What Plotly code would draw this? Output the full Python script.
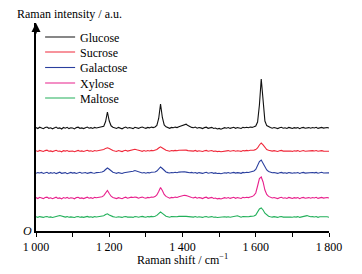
import plotly.graph_objects as go

shift = list(range(1000, 1805, 5))

glucose = [0.5, -0.5, 0.8, 0.0, -0.7, 0.4, 1.0, -0.3, 0.2, -0.8,
           0.3, 0.9, -0.4, 0.1, -1.0, 0.5, -0.2, 0.7, -0.6, 0.2,
           0.0, -0.9, 0.4, 0.8, -0.3, 0.1, -0.6, 0.5, 0.9, -0.2,
           0.3, -0.5, 0.6, 0.0, 0.4, 0.8, 1.0, 1.8, 6.5, 16.0,
           7.0, 2.2, 0.8, 0.1, -0.5, 0.6, 0.2, -0.8, 0.3, 0.9,
           -0.2, 0.4, 0.0, -0.6, 0.7, 0.3, -0.4, 0.5, 1.0, 0.2,
           -0.3, 0.6, 0.1, 0.9, 0.4, 1.0, 2.5, 9.5, 24.0, 10.5,
           3.0, 1.2, 0.5, -0.3, 0.6, 0.2, 0.9, 0.4, 1.2, 1.8,
           2.6, 3.5, 3.8, 2.4, 1.3, 0.6, 0.2, 0.9, -0.2, 0.5,
           0.1, -0.6, 0.4, 0.8, -0.3, 0.2, 0.6, -0.5, 0.0, -1.0,
           -0.4, -1.2, -0.6, 0.3, -0.2, 0.5, -0.4, 0.1, 0.7, -0.3,
           0.4, 0.0, -0.5, 0.6, 0.2, 0.8, 0.3, 1.0, 0.6, 1.2,
           2.0, 6.0, 23.0, 49.0, 25.0, 7.0, 2.4, 1.0, 0.4, -0.2,
           0.5, 0.0, -0.6, 0.3, 0.7, -0.2, 0.2, -0.4, 0.6, 0.1,
           -0.5, 0.3, -0.1, 0.5, -0.7, 0.2, 0.6, -0.3, 0.1, 0.4,
           -0.2, 0.5, 0.0, 0.7, -0.4, 0.3, 0.6, -0.1, 0.2, 0.5, 0.0]

sucrose = [0.3, -0.4, 0.6, 0.0, -0.5, 0.4, 0.8, -0.2, 0.1, -0.6,
           0.2, 0.7, -0.3, 0.0, -0.8, 0.4, -0.1, 0.5, -0.4, 0.1,
           0.0, -0.7, 0.3, 0.6, -0.2, 0.1, -0.5, 0.4, 0.7, -0.1,
           0.2, -0.4, 0.5, 0.0, 0.3, 0.6, 0.8, 1.5, 2.6, 3.2,
           2.4, 1.2, 0.5, 0.0, -0.4, 0.5, 0.1, -0.6, 0.2, 0.7,
           -0.1, 0.3, 0.8, 1.4, 1.8, 1.2, 0.4, 0.2, -0.3, 0.4,
           -0.2, 0.5, 0.0, 0.6, 0.3, 0.8, 1.5, 3.0, 4.2, 3.0,
           1.4, 0.7, 0.3, -0.2, 0.5, 0.1, 0.6, 0.2, 0.8, 1.0,
           0.7, 1.1, 0.9, 0.4, 0.1, 0.5, -0.1, 0.6, -0.3, 0.3,
           0.0, -0.5, 0.3, 0.6, -0.2, 0.1, 0.5, -0.4, 0.0, -0.6,
           -0.3, -0.8, -0.4, 0.2, -0.1, 0.4, -0.3, 0.0, 0.5, -0.2,
           0.3, 0.0, -0.4, 0.5, 0.1, 0.6, 0.2, 0.7, 0.5, 0.9,
           1.4, 3.0, 6.0, 8.0, 6.2, 3.2, 1.5, 0.7, 0.3, -0.1,
           0.4, 0.0, -0.5, 0.2, 0.6, -0.1, 0.1, -0.3, 0.5, 0.0,
           -0.4, 0.2, -0.1, 0.4, -0.5, 0.1, 0.5, -0.2, 0.0, 0.3,
           -0.1, 0.4, 0.0, 0.5, -0.3, 0.2, 0.4, -0.1, 0.1, 0.3, -0.2]

galactose = [-0.3, 0.4, 0.0, 0.6, -0.5, 0.2, 0.7, -0.4, 0.3, -0.2,
             0.5, -0.6, 0.1, 0.8, -0.3, 0.0, 0.4, -0.7, 0.2, 0.6,
             -0.1, 0.3, -0.5, 0.4, 0.7, -0.2, 0.1, 0.5, -0.4, 0.2,
             0.6, 0.0, -0.3, 0.4, 0.2, 0.7, 1.0, 1.8, 3.5, 5.0,
             3.8, 1.8, 0.8, 0.2, -0.3, 0.4, 0.0, -0.5, 0.3, 0.6,
             0.2, 0.6, 1.2, 1.8, 2.4, 1.9, 1.0, 0.4, 0.0, 0.5,
             -0.2, 0.4, 0.1, 0.7, 0.5, 1.0, 2.0, 4.0, 6.0, 4.5,
             2.2, 1.0, 0.4, 0.0, 0.5, 0.2, 0.7, 0.3, 0.9, 1.1,
             0.8, 1.2, 0.9, 0.5, 0.2, 0.6, 0.0, 0.5, -0.3, 0.4,
             0.1, -0.4, 0.3, 0.7, -0.2, 0.2, 0.5, -0.3, 0.1, -0.5,
             -0.2, -0.7, -0.3, 0.3, -0.1, 0.5, -0.2, 0.2, 0.6, -0.1,
             0.4, 0.1, -0.3, 0.6, 0.3, 0.8, 0.5, 1.0, 1.2, 2.0,
             3.5, 7.0, 11.5, 13.0, 10.0, 6.0, 3.0, 1.5, 0.7, 0.2,
             0.5, 0.0, -0.4, 0.3, 0.6, -0.1, 0.2, -0.3, 0.5, 0.1,
             -0.3, 0.3, 0.0, 0.5, -0.4, 0.2, 0.6, -0.1, 0.1, 0.4,
             0.0, 0.5, 0.1, 0.6, -0.2, 0.3, 0.7, 0.0, 0.2, 0.5, 0.1]

xylose = [0.4, -0.5, 0.7, 0.0, -0.6, 0.5, 0.9, -0.3, 0.2, -0.7,
          0.3, 0.8, -0.4, 0.1, -0.9, 0.5, -0.2, 0.6, -0.5, 0.2,
          0.0, -0.8, 0.4, 0.7, -0.3, 0.1, -0.6, 0.5, 0.8, -0.2,
          0.3, -0.5, 0.6, 0.2, 0.4, 0.9, 1.2, 2.4, 5.0, 7.5,
          4.5, 1.8, 0.6, -0.2, -0.6, 0.3, 0.0, -0.7, 0.3, 0.8,
          -0.2, 0.4, 0.9, 0.5, 1.0, 0.6, -0.2, 0.5, 0.9, 0.3,
          -0.2, 0.6, 0.2, 0.9, 0.7, 1.4, 3.0, 6.5, 10.5, 7.5,
          3.5, 1.6, 0.6, -0.2, 0.6, 0.2, 0.9, 0.5, 1.3, 1.9,
          2.2, 2.8, 2.4, 1.5, 0.8, 0.5, 0.1, 0.8, -0.2, 0.4,
          0.1, -0.6, 0.4, 0.8, -0.3, 0.2, 0.6, -0.5, 0.0, -0.9,
          -0.4, -1.0, -0.5, 0.3, -0.2, 0.5, -0.4, 0.1, 0.7, -0.3,
          0.4, 0.0, -0.5, 0.6, 0.2, 0.8, 0.4, 1.0, 1.4, 2.6,
          5.0, 12.0, 19.5, 21.0, 16.0, 8.0, 3.5, 1.6, 0.6, 0.0,
          0.5, 0.0, -0.6, 0.3, 0.7, -0.2, 0.2, -0.4, 0.6, 0.1,
          -0.5, 0.3, -0.1, 0.5, -0.7, 0.2, 0.6, -0.3, 0.1, 0.4,
          -0.2, 0.5, 0.0, 0.7, -0.4, 0.3, 0.6, -0.1, 0.2, 0.5, 0.0]

maltose = [0.2, -0.3, 0.4, 0.0, -0.4, 0.3, 0.5, -0.2, 0.1, -0.5,
           0.2, 0.5, 1.0, 1.5, 1.2, 0.5, -0.1, 0.4, -0.3, 0.1,
           0.0, -0.5, 0.3, 0.5, -0.2, 0.1, -0.4, 0.3, 0.6, -0.1,
           0.2, -0.3, 0.4, 0.0, 0.3, 0.5, 0.7, 1.2, 2.4, 3.2,
           2.0, 1.0, 0.4, 0.0, -0.3, 0.3, 0.1, -0.4, 0.2, 0.5,
           -0.1, 0.3, 0.0, -0.4, 0.4, 0.2, -0.3, 0.3, 0.6, 0.1,
           -0.2, 0.4, 0.1, 0.6, 0.3, 0.8, 1.6, 3.4, 5.0, 3.6,
           1.8, 0.8, 0.3, -0.2, 0.4, 0.1, 0.5, 0.2, 0.6, 0.8,
           0.5, 0.8, 0.6, 0.3, 0.0, 0.4, -0.1, 0.5, -0.2, 0.3,
           0.0, -0.4, 0.2, 0.5, -0.2, 0.1, 0.4, -0.3, 0.0, -0.5,
           -0.2, -0.6, -0.3, 0.2, -0.1, 0.3, -0.2, 0.0, 0.4, 0.8,
           1.2, 0.6, -0.2, 0.4, 0.1, 0.5, 0.2, 0.6, 0.5, 1.0,
           2.0, 5.0, 8.0, 9.0, 7.0, 3.8, 1.8, 0.8, 0.3, -0.1,
           0.4, 0.0, -0.4, 0.2, 0.5, -0.1, 0.1, -0.3, 0.4, 0.0,
           -0.3, 0.2, -0.1, 0.4, -0.4, 0.1, 0.5, 1.0, 1.4, 0.8,
           0.2, 0.4, 0.0, 0.5, -0.3, 0.2, 0.4, -0.1, 0.1, 0.3, -0.2]

names = ["Glucose", "Sucrose", "Galactose", "Xylose", "Maltose"]
offsets = [103, 80, 58, 33, 14]
colors = ["#111111", "#f0283a", "#2a3f9e", "#e8208c", "#22b05a"]
series = [glucose, sucrose, galactose, xylose, maltose]

tick_vals = [1000, 1200, 1400, 1600, 1800]
tick_text = ["1\u2009000", "1\u2009200", "1\u2009400", "1\u2009600", "1\u2009800"]

FONT = "Liberation Serif"

# The page has an 8 px body margin; figure sits at (8, 8).
# Target plot area in page pixels: x 36..329, y 23..231.
PAGE_OFF = 8
PLOT_H = 208.0
legend_rows = [37, 52, 67.5, 83, 98]  # page-pixel centres of legend rows

fig = go.Figure()
layout_legends = {}
for k, (name, off, col, vals) in enumerate(zip(names, offsets, colors, series)):
    lname = "legend" if k == 0 else f"legend{k + 1}"
    fig.add_trace(go.Scatter(
        x=shift, y=[v + off for v in vals], mode="lines", name=name,
        line=dict(color=col, width=1.1), legend=lname))
    ypaper = 1 - (legend_rows[k] - 23) / PLOT_H
    layout_legends[lname] = dict(
        x=0.014, y=ypaper, xanchor="left", yanchor="middle",
        bgcolor="rgba(0,0,0,0)", borderwidth=0,
        font=dict(size=12, family=FONT, color="black"), itemwidth=30)

fig.update_layout(
    width=362 - PAGE_OFF, height=274 - PAGE_OFF,
    margin=dict(l=36 - PAGE_OFF, r=33, t=23 - PAGE_OFF, b=43, autoexpand=False),
    paper_bgcolor="white", plot_bgcolor="white",
    font=dict(family=FONT, size=12, color="black"),
    showlegend=True,
    xaxis=dict(range=[1000, 1800], showline=True, linecolor="black", linewidth=1.5,
               showgrid=False, zeroline=False, ticks="outside", ticklen=4,
               tickcolor="black", tickvals=tick_vals, ticktext=tick_text,
               tickfont=dict(size=12, family=FONT), automargin=False,
               minor=dict(tickvals=[1100, 1300, 1500, 1700], ticks="outside",
                          ticklen=4, tickcolor="black")),
    yaxis=dict(range=[0, 208], showline=True, linecolor="black", linewidth=1.5,
               showgrid=False, zeroline=False, showticklabels=False, ticks="",
               automargin=False),
    **layout_legends,
)

fig.add_annotation(x=1000, y=208, xref="x", yref="y", ax=0, ay=12,
                   showarrow=True, arrowhead=2, arrowsize=1.2, arrowwidth=1.5,
                   arrowcolor="black", text="")
fig.add_annotation(x=-20 / 293, y=1 + 9 / PLOT_H, xref="paper", yref="paper", xanchor="left",
                   yanchor="middle", showarrow=False, text="Raman intensity / a.u.",
                   font=dict(size=12, family=FONT), borderpad=0)
fig.add_annotation(x=0.5, y=-28.5 / PLOT_H, xref="paper", yref="paper", xanchor="center",
                   yanchor="middle", showarrow=False,
                   text="Raman shift / cm<sup>\u22121</sup>",
                   font=dict(size=12, family=FONT))
fig.add_annotation(x=1000, y=0, xref="x", yref="y", xanchor="right", yanchor="middle",
                   xshift=-2, showarrow=False, text="<i>O</i>",
                   font=dict(size=12, family=FONT))

fig.write_html("out.html")
